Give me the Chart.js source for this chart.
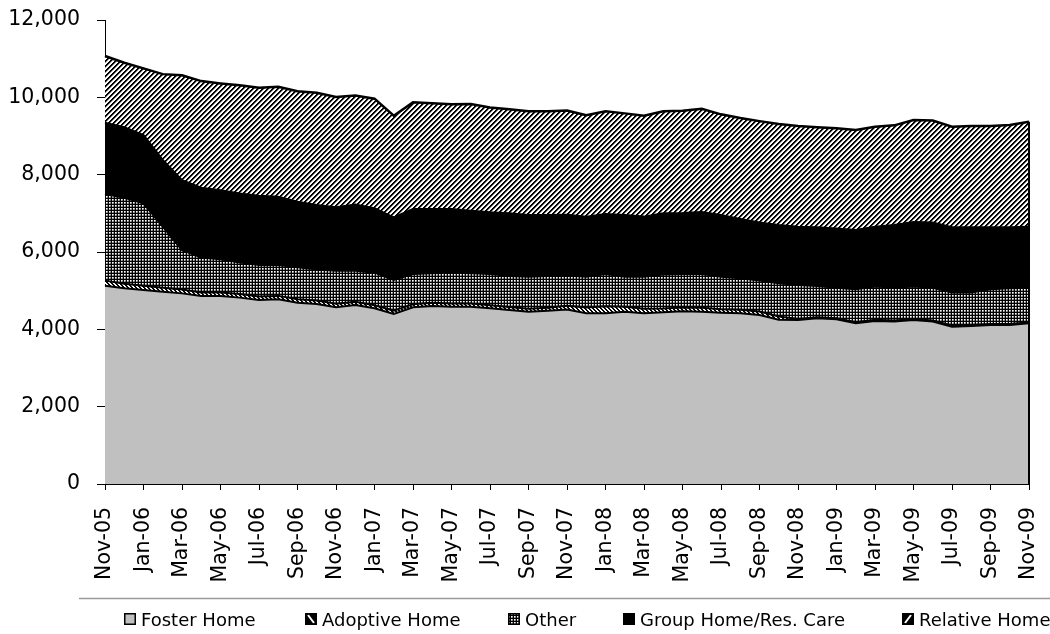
<!DOCTYPE html>
<html><head><meta charset="utf-8">
<script src="https://cdn.jsdelivr.net/npm/chart.js@4.4.1/dist/chart.umd.min.js"></script>
<style>
html,body{margin:0;padding:0;background:#fff;}
#wrap{width:1050px;height:634px;position:relative;}
canvas{display:block;}
</style></head><body>
<div id="wrap"><canvas id="c" width="1050" height="634"></canvas></div>
<script>
// ---- data ----
const months = ['Nov-05','Dec-05','Jan-06','Feb-06','Mar-06','Apr-06','May-06','Jun-06','Jul-06','Aug-06','Sep-06','Oct-06',
  'Nov-06','Dec-06','Jan-07','Feb-07','Mar-07','Apr-07','May-07','Jun-07','Jul-07','Aug-07','Sep-07','Oct-07',
  'Nov-07','Dec-07','Jan-08','Feb-08','Mar-08','Apr-08','May-08','Jun-08','Jul-08','Aug-08','Sep-08','Oct-08',
  'Nov-08','Dec-08','Jan-09','Feb-09','Mar-09','Apr-09','May-09','Jun-09','Jul-09','Aug-09','Sep-09','Oct-09','Nov-09'];
const fosterHome = [5130,5060,5015,4975,4930,4860,4860,4820,4760,4775,4690,4655,4570,4630,4545,4395,4570,4605,4585,4585,4545,4500,4455,4480,4510,4415,4415,4455,4415,4440,4465,4455,4430,4415,4370,4250,4240,4285,4260,4155,4215,4200,4240,4200,4070,4085,4110,4110,4155];
const adoptiveHome = [130,120,110,100,100,95,95,95,90,90,90,90,90,80,80,90,80,80,80,80,80,80,80,80,100,150,180,130,120,100,100,100,90,90,90,80,30,30,30,30,30,30,30,30,30,30,30,30,30];
const other = [2240,2225,2135,1580,1020,905,855,810,815,800,825,805,855,805,840,790,780,765,800,785,805,800,825,820,785,795,835,775,825,880,865,875,840,815,800,860,875,805,785,850,860,845,835,845,850,835,895,920,890];
const groupHome = [1845,1820,1765,1725,1810,1805,1790,1790,1790,1765,1695,1665,1645,1715,1665,1620,1680,1660,1645,1620,1595,1620,1595,1575,1570,1555,1550,1595,1555,1580,1580,1605,1595,1535,1505,1510,1510,1520,1535,1535,1550,1625,1670,1685,1690,1690,1605,1580,1580];
const relativeHome = [1725,1670,1725,2220,2710,2755,2760,2795,2795,2845,2860,2905,2850,2820,2835,2630,2760,2735,2710,2755,2715,2690,2685,2685,2695,2620,2660,2630,2610,2640,2645,2670,2605,2610,2620,2610,2605,2585,2590,2585,2585,2575,2640,2640,2600,2620,2620,2645,2715];
const seriesNames = ['Foster Home','Adoptive Home','Other','Group Home/Res. Care','Relative Home'];
const yTicks = [0,2000,4000,6000,8000,10000,12000];

// ---- patterns ----
const mainCtx = document.getElementById('c').getContext('2d');
function makePattern(size, fn){
  const c = document.createElement('canvas'); c.width = size; c.height = size;
  const g = c.getContext('2d'); const img = g.createImageData(size, size);
  for (let y = 0; y < size; y++) for (let x = 0; x < size; x++) {
    const v = fn(x, y); const p = (y*size + x)*4;
    img.data[p] = v; img.data[p+1] = v; img.data[p+2] = v; img.data[p+3] = 255;
  }
  g.putImageData(img, 0, 0);
  return mainCtx.createPattern(c, 'repeat');
}
const relPattern = makePattern(5, (x,y) => { const k = (x + y) % 5; return k < 2 ? 0 : (k === 2 ? 150 : 255); });
const adoptPattern = makePattern(4, (x,y) => { const k = ((x - y) % 4 + 4) % 4; return k < 2 ? 0 : 255; });
const otherPattern = makePattern(3, (x,y) => {
  if (x === 0 || y === 0) return 0;
  if (x === 1 && y === 1) return 255;
  if (x === 2 && y === 2) return 110;
  return 170;
});
const fills = ['#c0c0c0', adoptPattern, otherPattern, '#000000', relPattern];
const seriesData = [fosterHome, adoptiveHome, other, groupHome, relativeHome];

// ---- plugins ----
const legendX = [124, 305, 508, 623, 902];
const customLegend = {
  id: 'customLegend',
  afterDraw(chart) {
    const ctx = chart.ctx;
    ctx.save();
    ctx.strokeStyle = '#9a9a9a'; ctx.lineWidth = 1.5;
    ctx.beginPath(); ctx.moveTo(79, 598.5); ctx.lineTo(1050, 598.5); ctx.stroke();
    ctx.font = '18px "DejaVu Sans"'; ctx.textBaseline = 'alphabetic'; ctx.textAlign = 'left';
    chart.data.datasets.forEach((ds, i) => {
      const x = legendX[i], y = 613, s = 12;
      if (i === 1 || i === 4) {
        ctx.fillStyle = '#000'; ctx.fillRect(x, y, s, s);
        ctx.strokeStyle = '#fff'; ctx.lineWidth = 2;
        ctx.beginPath();
        if (i === 1) { ctx.moveTo(x+3, y+2); ctx.lineTo(x+9, y+10); }
        else { ctx.moveTo(x+3, y+10); ctx.lineTo(x+9, y+2); }
        ctx.stroke();
      } else {
        ctx.fillStyle = ds.backgroundColor; ctx.fillRect(x, y, s, s);
      }
      ctx.strokeStyle = '#000'; ctx.lineWidth = 1.5;
      ctx.strokeRect(x + 0.75, y + 0.75, s - 1.5, s - 1.5);
      ctx.fillStyle = '#000';
      ctx.fillText(ds.label, x + 17, 626);
    });
    ctx.restore();
  }
};
const rightEdge = {
  id: 'rightEdge',
  afterDatasetsDraw(chart) {
    const xs = chart.scales.x, ys = chart.scales.y;
    const last = months.length - 1;
    let total = 0; seriesData.forEach(a => total += a[last]);
    const ctx = chart.ctx;
    ctx.save(); ctx.strokeStyle = '#000'; ctx.lineWidth = 2;
    const x = xs.getPixelForValue(last);
    ctx.beginPath(); ctx.moveTo(x, ys.getPixelForValue(total)); ctx.lineTo(x, ys.getPixelForValue(0)); ctx.stroke();
    ctx.restore();
  }
};

const datasets = seriesNames.map((name, i) => ({
  label: name,
  data: seriesData[i],
  backgroundColor: fills[i],
  borderColor: '#000',
  borderWidth: i === 4 ? 2.5 : 2,
  pointRadius: 0,
  tension: 0,
  fill: i === 0 ? 'origin' : '-1'
}));

const tickFont = { family: 'DejaVu Sans', size: 20.5 };
new Chart(document.getElementById('c'), {
  type: 'line',
  data: { labels: months, datasets },
  plugins: [customLegend, rightEdge],
  options: {
    responsive: false,
    animation: false,
    devicePixelRatio: 1,
    layout: { padding: { left: 0, top: 20, right: 21, bottom: 52 } },
    plugins: { legend: { display: false }, tooltip: { enabled: false } },
    scales: {
      x: {
        offset: false,
        grid: { display: true, drawOnChartArea: false, drawTicks: true, tickLength: 6, color: '#000' },
        border: { display: true, color: '#000', width: 1 },
        ticks: { autoSkip: true, maxTicksLimit: 25, minRotation: 90, maxRotation: 90, padding: 17, color: '#000', font: tickFont },
        afterFit: s => { s.height = 98; s.paddingLeft = 0; s.paddingRight = 0; s.paddingTop = 0; s.paddingBottom = 0; }
      },
      y: {
        stacked: true,
        min: 0, max: 12000,
        grid: { display: true, drawOnChartArea: false, drawTicks: true, tickLength: 8, color: '#000' },
        border: { display: true, color: '#000', width: 1 },
        ticks: { padding: 17, color: '#000', font: tickFont, callback: v => Number(v).toLocaleString('en-US') },
        afterBuildTicks: s => { s.ticks = yTicks.map(v => ({ value: v })); },
        afterFit: s => { s.width = 105; s.paddingTop = 0; s.paddingBottom = 0; s.paddingLeft = 0; s.paddingRight = 0; }
      }
    }
  }
});
</script>
</body></html>
